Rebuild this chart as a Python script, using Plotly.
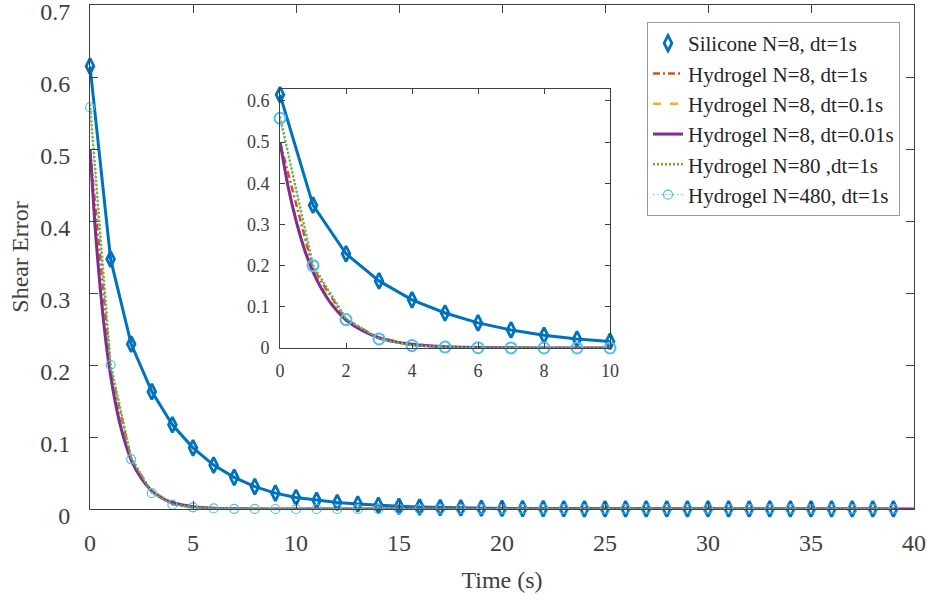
import plotly.graph_objects as go

# ---- data -------------------------------------------------------------
time_1s = list(range(40))

silicone_n8_dt1 = [0.615, 0.347, 0.229, 0.163, 0.117, 0.085, 0.061, 0.044, 0.031, 0.022,
                   0.016, 0.012, 0.009, 0.007, 0.005, 0.0037, 0.0027, 0.002, 0.0015, 0.0011,
                   0.0008, 0.0006, 0.00045, 0.0003, 0.00025, 0.0002, 0.00015, 0.0001, 0.0001, 0.0001,
                   0.0001, 0.0001, 0.0001, 0.0001, 0.0001, 0.0001, 0.0001, 0.0001, 0.0001, 0.0001]

hydrogel_n8_dt1 = [0.500, 0.193, 0.069, 0.023, 0.0068, 0.0022, 0.0007, 0.0002, 0.0001] + [0.0] * 31
hydrogel_n80_dt1 = [0.562, 0.201, 0.071, 0.023, 0.0066, 0.0024, 0.0008, 0.0003, 0.0001] + [0.0] * 31
hydrogel_n480_dt1 = [0.558, 0.200, 0.069, 0.022, 0.0060, 0.0022, 0.0008, 0.0003, 0.0001] + [0.0] * 31

time_dt01 = [0, 0.25, 0.5, 0.75, 1, 1.5, 2, 2.5, 3, 4, 5, 6, 7, 8, 10, 20, 30, 39.9]
hydrogel_n8_dt01 = [0.5, 0.392, 0.308, 0.241, 0.189, 0.116, 0.070, 0.043, 0.026, 0.0095,
                    0.0034, 0.0012, 0.0004, 0.00015, 0, 0, 0, 0]

time_dt001 = [0, 0.25, 0.5, 0.75, 1, 1.25, 1.5, 1.75, 2, 2.5, 3, 3.5, 4, 4.5, 5,
              6, 7, 8, 9, 10, 15, 20, 25, 30, 35, 40]
hydrogel_n8_dt001 = [0.5, 0.39, 0.305, 0.237, 0.185, 0.145, 0.113, 0.088, 0.068, 0.042,
                     0.025, 0.015, 0.009, 0.0055, 0.0033, 0.0012, 0.0004, 0.00015, 0.00005, 0,
                     0, 0, 0, 0, 0, 0]

labels = ["Silicone N=8, dt=1s", "Hydrogel N=8, dt=1s", "Hydrogel N=8, dt=0.1s",
          "Hydrogel N=8, dt=0.01s", "Hydrogel N=80 ,dt=1s", "Hydrogel N=480, dt=1s"]

main_yticks = [0, 0.1, 0.2, 0.3, 0.4, 0.5, 0.6, 0.7]
inset_yticks = [0, 0.1, 0.2, 0.3, 0.4, 0.5, 0.6]

# ---- styling ----------------------------------------------------------
BLUE, ORANGE, YELLOW = "#0072BD", "#D95319", "#EDB120"
PURPLE, GREEN, CYAN = "#7E2F8E", "#77AC30", "#4DBEEE"
FONT = "Liberation Serif, Times New Roman, serif"
AX = "#404040"


def clip(t, y, tmax):
    pairs = [(a, b) for a, b in zip(t, y) if a <= tmax]
    return [p[0] for p in pairs], [p[1] for p in pairs]


fig = go.Figure()


def add_series(xa, ya, inset):
    tmax = 10 if inset else 40
    show = not inset
    diam = 11
    circ = 11 if inset else 9
    circ_w = 2 if inset else 1.2

    t, y = clip(time_1s, silicone_n8_dt1, tmax)
    fig.add_trace(go.Scatter(x=t, y=y, mode="lines", line=dict(color=BLUE, width=3),
                             showlegend=False, xaxis=xa, yaxis=ya, hoverinfo="skip"))
    fig.add_trace(go.Scatter(x=t, y=y, mode="markers", name=labels[0], showlegend=show,
                             marker=dict(symbol="diamond-tall-open", size=diam, color=BLUE,
                                         line=dict(color=BLUE, width=2.8)),
                             cliponaxis=False, xaxis=xa, yaxis=ya))

    t, y = clip(time_1s, hydrogel_n8_dt1, tmax)
    fig.add_trace(go.Scatter(x=t, y=y, mode="lines", name=labels[1], showlegend=show,
                             line=dict(color=ORANGE, width=2.5, dash="7px,3px,2px,3px"),
                             xaxis=xa, yaxis=ya))

    t, y = clip(time_dt01, hydrogel_n8_dt01, tmax)
    fig.add_trace(go.Scatter(x=t, y=y, mode="lines", name=labels[2], showlegend=show,
                             line=dict(color=YELLOW, width=2.5, dash="8px,9px", shape="spline",
                                       smoothing=0.6),
                             xaxis=xa, yaxis=ya))

    t, y = clip(time_dt001, hydrogel_n8_dt001, tmax)
    fig.add_trace(go.Scatter(x=t, y=y, mode="lines", name=labels[3], showlegend=show,
                             line=dict(color=PURPLE, width=3, shape="spline", smoothing=0.6),
                             xaxis=xa, yaxis=ya))

    t, y = clip(time_1s, hydrogel_n80_dt1, tmax)
    fig.add_trace(go.Scatter(x=t, y=y, mode="lines", name=labels[4], showlegend=show,
                             line=dict(color=GREEN, width=2.5, dash="2px,2px"),
                             xaxis=xa, yaxis=ya))

    t, y = clip(time_1s, hydrogel_n480_dt1, tmax)
    fig.add_trace(go.Scatter(x=t, y=y, mode="lines+markers", name=labels[5], showlegend=show,
                             line=dict(color=CYAN, width=1, dash="1.5px,2.5px"),
                             marker=dict(symbol="circle-open", size=circ, color=CYAN,
                                         line=dict(color=CYAN, width=circ_w)),
                             cliponaxis=False, xaxis=xa, yaxis=ya))


add_series("x", "y", inset=False)
add_series("x2", "y2", inset=True)

axis_common = dict(showline=True, linecolor=AX, linewidth=1, mirror="ticks", ticks="inside",
                   tickcolor=AX, showgrid=False, zeroline=False, ticklabeloverflow="allow",
                   automargin=False)

fig.update_layout(
    width=927, height=603,
    margin=dict(l=90, r=13, t=5, b=94),
    paper_bgcolor="white", plot_bgcolor="white",
    font=dict(family=FONT, color=AX),
    xaxis=dict(range=[0, 40], dtick=5, ticklen=8, ticklabelstandoff=12,
               tickfont=dict(family=FONT, color=AX, size=24),
               title=dict(text="Time (s)", font=dict(size=24, family=FONT, color=AX), standoff=16),
               **axis_common),
    yaxis=dict(range=[0, 0.7], tickvals=main_yticks, ticktext=[f"{v:g}" for v in main_yticks],
               ticklen=8, ticklabelstandoff=14, ticklabelshift=7,
               tickfont=dict(family=FONT, color=AX, size=24),
               title=dict(text="Shear Error", font=dict(size=24, family=FONT, color=AX), standoff=4),
               **axis_common),
    xaxis2=dict(domain=[0.2306, 0.6311], range=[0, 10], dtick=2, ticklen=5, anchor="y2",
                ticklabelstandoff=6, tickfont=dict(family=FONT, color=AX, size=18),
                **axis_common),
    yaxis2=dict(domain=[0.3194, 0.8333], range=[0, 0.629], tickvals=inset_yticks,
                ticktext=[f"{v:g}" for v in inset_yticks], ticklen=5, anchor="x2",
                ticklabelstandoff=6, tickfont=dict(family=FONT, color=AX, size=18),
                **axis_common),
    legend=dict(x=(900 - 90) / 824, y=(509 - 22) / 504, xanchor="right", yanchor="top",
                bgcolor="white", bordercolor="#999999", borderwidth=1,
                font=dict(family=FONT, size=21, color="#262626"),
                tracegroupgap=0),
    showlegend=True,
)

fig.write_html("out.html")
